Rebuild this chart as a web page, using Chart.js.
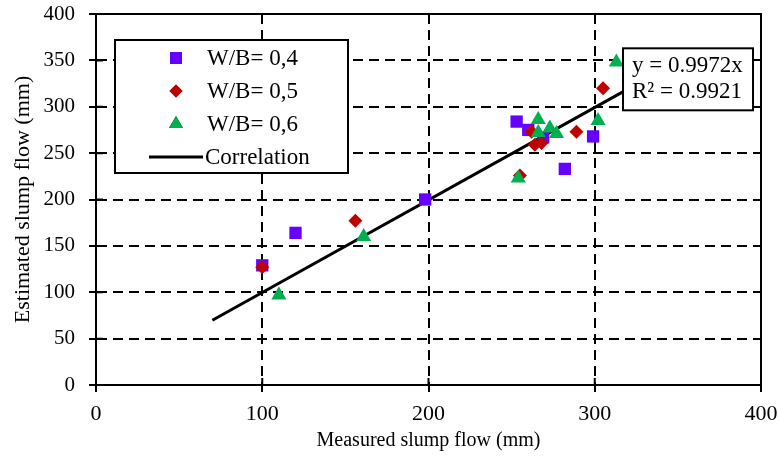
<!DOCTYPE html>
<html>
<head>
<meta charset="utf-8">
<script src="https://cdn.jsdelivr.net/npm/chart.js@4/dist/chart.umd.min.js"></script>
<style>
html,body{margin:0;padding:0;background:#fff;}
#wrap{width:779px;height:456px;}
</style>
</head>
<body>
<div id="wrap"><canvas id="c" width="779" height="456"></canvas></div>
<script>
// ---- data ----
const wb04X = [100, 120, 198, 253, 260, 269, 282, 299];
const wb04Y = [129, 164, 200, 284, 275, 267, 233, 268];
const wb05X = [100, 156, 255, 262, 264, 268, 289, 305];
const wb05Y = [127, 177, 226, 273, 259, 261, 273, 320];
const wb06X = [110, 161, 254, 266, 266, 273, 277, 302, 313];
const wb06Y = [97, 160, 223, 286, 272, 277, 271, 285, 348];
const corrX = [70, 322];
const corrY = [69.8, 321.1];
const seriesLabels = ['W/B= 0,4', 'W/B= 0,5', 'W/B= 0,6', 'Correlation'];
const xTicks = [0, 100, 200, 300, 400];
const yTicks = [0, 50, 100, 150, 200, 250, 300, 350, 400];
const xTitle = 'Measured slump flow (mm)';
const yTitle = 'Estimated slump flow (mm)';
const eqLines = ['y = 0.9972x', 'R\u00B2 = 0.9921'];

const pts = (xs, ys) => xs.map((x, i) => ({x: x, y: ys[i]}));
const SERIF = '"Liberation Serif", "Times New Roman", serif';
const colors = ['#6600FF', '#C00000', '#00B050', '#000000'];
const styles = ['rect', 'rectRot', 'triangle'];
const radii = [8.7, 7, 8.7];

const framePlugin = {
  id: 'frame',
  afterDraw(chart) {
    const {ctx, chartArea: a, scales} = chart;
    ctx.save();
    ctx.strokeStyle = '#000';
    ctx.lineWidth = 2;
    ctx.setLineDash([]);
    ctx.beginPath();
    yTicks.forEach(v => {
      const py = scales.y.getPixelForValue(v);
      ctx.moveTo(a.left, py); ctx.lineTo(a.left + 7, py);
    });
    xTicks.forEach(v => {
      const px = scales.x.getPixelForValue(v);
      ctx.moveTo(px, a.bottom); ctx.lineTo(px, a.bottom - 7);
    });
    ctx.stroke();
    ctx.strokeRect(a.left, a.top, a.right - a.left, a.bottom - a.top);

    // legend box
    const lx = a.left + 19, ly = a.top + 26, lw = 233, lh = 133;
    ctx.fillStyle = '#fff';
    ctx.fillRect(lx, ly, lw, lh);
    ctx.strokeRect(lx, ly, lw, lh);
    ctx.font = '23px ' + SERIF;
    ctx.textBaseline = 'middle';
    ctx.textAlign = 'left';
    const legR = [8.5, 6.5, 8];
    for (let i = 0; i < 4; i++) {
      const cy = ly + 18 + i * 33;
      const mx = lx + 61;
      if (i < 3) {
        ctx.beginPath();
        Chart.helpers.drawPoint(ctx, {pointStyle: styles[i], radius: legR[i], borderWidth: 0, rotation: 0}, mx, cy);
        ctx.fillStyle = colors[i];
        ctx.fill();
      } else {
        ctx.beginPath();
        ctx.lineWidth = 3;
        ctx.moveTo(lx + 34, cy); ctx.lineTo(lx + 88, cy);
        ctx.stroke();
        ctx.lineWidth = 2;
      }
      ctx.fillStyle = '#000';
      ctx.fillText(seriesLabels[i], i < 3 ? lx + 92 : lx + 90, cy + 1);
    }

    // equation box
    const bx = scales.x.getPixelForValue(317), by = scales.y.getPixelForValue(363);
    const bw = 130, bh = 62;
    ctx.fillStyle = '#fff';
    ctx.fillRect(bx, by, bw, bh);
    ctx.strokeRect(bx, by, bw, bh);
    ctx.fillStyle = '#000';
    ctx.font = '23px ' + SERIF;
    ctx.fillText(eqLines[0], bx + 9, by + 18);
    ctx.fillText(eqLines[1], bx + 9, by + 44);
    ctx.restore();
  }
};

const gridColor = (c) => (c.tick && (c.tick.value === 0 || c.tick.value === 400)) ? 'rgba(0,0,0,0)' : '#000';
const noPad = s => { s.paddingTop = 0; s.paddingBottom = 0; s.paddingLeft = 0; s.paddingRight = 0; };

new Chart(document.getElementById('c'), {
  type: 'scatter',
  data: {
    datasets: [
      {label: seriesLabels[0], data: pts(wb04X, wb04Y), pointStyle: styles[0], pointRadius: radii[0], backgroundColor: colors[0], borderColor: colors[0], borderWidth: 0, order: 2},
      {label: seriesLabels[1], data: pts(wb05X, wb05Y), pointStyle: styles[1], pointRadius: radii[1], backgroundColor: colors[1], borderColor: colors[1], borderWidth: 0, order: 1},
      {label: seriesLabels[2], data: pts(wb06X, wb06Y), pointStyle: styles[2], pointRadius: radii[2], backgroundColor: colors[2], borderColor: colors[2], borderWidth: 0, order: 0},
      {type: 'line', label: seriesLabels[3], data: pts(corrX, corrY), borderColor: '#000', borderWidth: 3, pointRadius: 0, showLine: true, fill: false, order: 3}
    ]
  },
  options: {
    responsive: false,
    animation: false,
    events: [],
    layout: {padding: {left: 7, top: 14, right: 18, bottom: 0}},
    plugins: {legend: {display: false}, tooltip: {enabled: false}},
    scales: {
      x: {
        type: 'linear', min: 0, max: 400,
        afterBuildTicks: s => { s.ticks = xTicks.map(v => ({value: v})); },
        afterFit: s => { s.height = 71; noPad(s); },
        grid: {color: gridColor, lineWidth: 2, tickColor: '#000', tickLength: 7, tickWidth: 2, tickBorderDash: []},
        border: {display: true, color: '#000', width: 2, dash: [10, 6]},
        ticks: {color: '#000', font: {family: SERIF, size: 22}, padding: 9, maxRotation: 0, autoSkip: false, stepSize: 100},
        title: {display: true, text: xTitle, color: '#000', font: {family: SERIF, size: 20}, padding: {top: 4, bottom: 3}}
      },
      y: {
        type: 'linear', min: 0, max: 400,
        afterBuildTicks: s => { s.ticks = yTicks.map(v => ({value: v})); },
        afterFit: s => { s.width = 89; noPad(s); },
        grid: {color: gridColor, lineWidth: 2, tickColor: '#000', tickLength: 7, tickWidth: 2, tickBorderDash: []},
        border: {display: true, color: '#000', width: 2, dash: [10, 6]},
        ticks: {color: '#000', font: {family: SERIF, size: 21}, padding: 14, autoSkip: false, stepSize: 50},
        title: {display: true, text: yTitle, color: '#000', font: {family: SERIF, size: 22}, padding: {top: 3, bottom: 4}}
      }
    }
  },
  plugins: [framePlugin]
});
</script>
</body>
</html>
